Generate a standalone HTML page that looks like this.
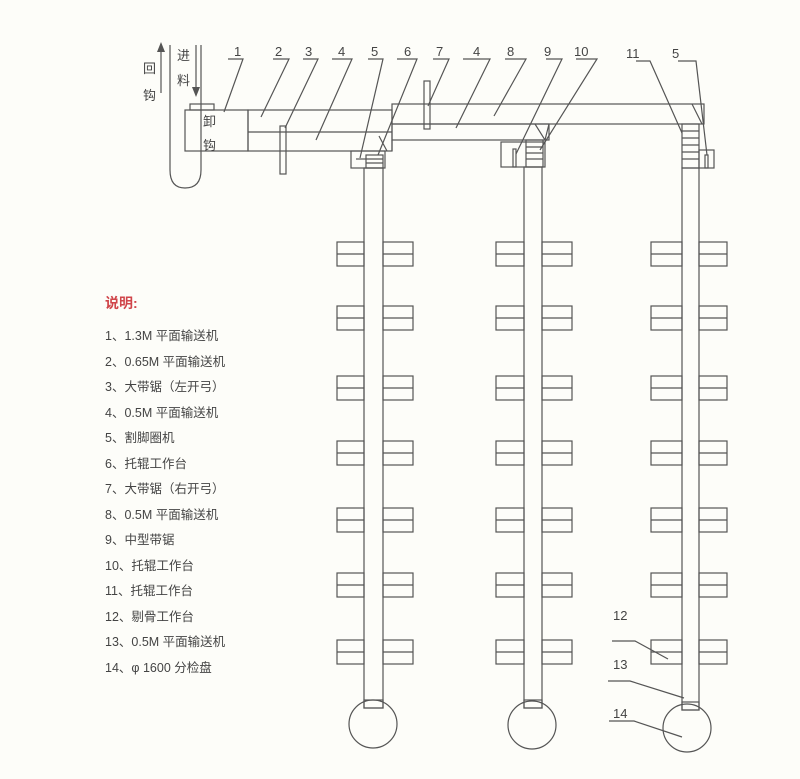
<!DOCTYPE html>
<html><head><meta charset="utf-8"><style>
html,body{margin:0;padding:0;background:#fdfdf9;}
svg{display:block;}
text{font-family:"Liberation Sans","Noto Sans CJK SC",sans-serif;fill:#444;}
.l{font-size:12.5px;}
</style></head><body>
<svg width="800" height="779" viewBox="0 0 800 779" xmlns="http://www.w3.org/2000/svg">
<defs>
<g id="r" fill="none" stroke="#555" stroke-width="1.2">
<rect x="337" y="0" width="27" height="24"/><line x1="337" y1="12" x2="364" y2="12"/>
<rect x="383" y="0" width="30" height="24"/><line x1="383" y1="12" x2="413" y2="12"/>
<rect x="496" y="0" width="28" height="24"/><line x1="496" y1="12" x2="524" y2="12"/>
<rect x="542" y="0" width="30" height="24"/><line x1="542" y1="12" x2="572" y2="12"/>
<rect x="651" y="0" width="31" height="24"/><line x1="651" y1="12" x2="682" y2="12"/>
<rect x="699" y="0" width="28" height="24"/><line x1="699" y1="12" x2="727" y2="12"/>
</g>
</defs>
<rect width="800" height="779" fill="#fdfdf9"/>
<g fill="none" stroke="#555" stroke-width="1.2">
<path d="M170,45 V170 Q170,188 185,188 Q201,188 201,170 V45"/>
<line x1="161" y1="50" x2="161" y2="93"/>
<line x1="196" y1="45" x2="196" y2="88"/>
<rect x="190" y="104" width="24" height="6"/>
<rect x="185" y="110" width="63" height="41"/>
<rect x="248" y="110" width="144" height="41"/>
<line x1="248" y1="132" x2="392" y2="132"/>
<rect x="280" y="126" width="6" height="48"/>
<rect x="392" y="104" width="312" height="20"/>
<rect x="392" y="124" width="157" height="16"/>
<line x1="392" y1="140" x2="392" y2="151"/>
<rect x="424" y="81" width="6" height="48"/>
<path d="M379,136 L387,151"/>
<path d="M535,124 L545,140 L549,124"/>
<path d="M692,104 L702,124"/>
<rect x="351" y="151" width="34" height="17"/>
<line x1="356" y1="159" x2="366" y2="159"/>
<rect x="366" y="155" width="17" height="13"/>
<line x1="366" y1="159" x2="383" y2="159"/><line x1="366" y1="163" x2="383" y2="163"/>
<rect x="501" y="142" width="44" height="25"/>
<rect x="513" y="149" width="3" height="18"/>
<rect x="526" y="140" width="17" height="27"/>
<line x1="526" y1="147" x2="543" y2="147"/><line x1="526" y1="153" x2="543" y2="153"/><line x1="526" y1="159" x2="543" y2="159"/>
<rect x="682" y="124" width="17" height="44"/>
<line x1="682" y1="131" x2="699" y2="131"/><line x1="682" y1="138" x2="699" y2="138"/><line x1="682" y1="145" x2="699" y2="145"/><line x1="682" y1="152" x2="699" y2="152"/><line x1="682" y1="159" x2="699" y2="159"/>
<rect x="699" y="150" width="15" height="18"/>
<rect x="705" y="155" width="3" height="13"/>
<rect x="364" y="168" width="19" height="540"/>
<rect x="524" y="167" width="18" height="541"/>
<rect x="682" y="168" width="17" height="542"/>
<rect x="364" y="700" width="19" height="8"/>
<rect x="524" y="700" width="18" height="8"/>
<rect x="682" y="702" width="17" height="8"/>
<circle cx="373" cy="724" r="24"/>
<circle cx="532" cy="725" r="24"/>
<circle cx="687" cy="728" r="24"/>
<path d="M228,59 H243 L224,112"/>
<path d="M273,59 H289 L261,117"/>
<path d="M303,59 H318 L285,128"/>
<path d="M332,59 H352 L316,140"/>
<path d="M368,59 H383 L360,158"/>
<path d="M397,59 H417 L378,155"/>
<path d="M433,59 H449 L428,106"/>
<path d="M463,59 H490 L456,128"/>
<path d="M505,59 H526 L494,116"/>
<path d="M546,59 H562 L516,154"/>
<path d="M576,59 H597 L540,150"/>
<path d="M636,61 H650 L682,133"/>
<path d="M678,61 H696 L707,155"/>
<path d="M612,641 H635 L668,659"/>
<path d="M608,681 H630 L684,698"/>
<path d="M609,721 H634 L682,737"/>
</g>
<g fill="#555">
<polygon points="157,52 165,52 161,42"/>
<polygon points="192,87 200,87 196,97"/>
</g>
<use href="#r" y="242"/>
<use href="#r" y="306"/>
<use href="#r" y="376"/>
<use href="#r" y="441"/>
<use href="#r" y="508"/>
<use href="#r" y="573"/>
<use href="#r" y="640"/>
<g font-size="13">
<text x="143" y="73">回</text><text x="143" y="100">钩</text>
<text x="177" y="60">进</text><text x="177" y="85">料</text>
<text x="203" y="126">卸</text><text x="203" y="150">钩</text>
<text x="234" y="56">1</text><text x="275" y="56">2</text><text x="305" y="56">3</text>
<text x="338" y="56">4</text><text x="371" y="56">5</text><text x="404" y="56">6</text>
<text x="436" y="56">7</text><text x="473" y="56">4</text><text x="507" y="56">8</text>
<text x="544" y="56">9</text><text x="574" y="56">10</text>
<text x="626" y="58">11</text><text x="672" y="58">5</text>
<text x="613" y="620">12</text><text x="613" y="669">13</text><text x="613" y="718">14</text>
</g>
<text x="105" y="308" font-size="14" font-weight="bold" style="fill:#d0454a">说明:</text>
<g class="l">
<text x="105" y="340">1、1.3M 平面输送机</text>
<text x="105" y="366">2、0.65M 平面输送机</text>
<text x="105" y="391">3、大带锯（左开弓）</text>
<text x="105" y="417">4、0.5M 平面输送机</text>
<text x="105" y="442">5、割脚圈机</text>
<text x="105" y="468">6、托辊工作台</text>
<text x="105" y="493">7、大带锯（右开弓）</text>
<text x="105" y="519">8、0.5M 平面输送机</text>
<text x="105" y="544">9、中型带锯</text>
<text x="105" y="570">10、托辊工作台</text>
<text x="105" y="595">11、托辊工作台</text>
<text x="105" y="621">12、剔骨工作台</text>
<text x="105" y="646">13、0.5M 平面输送机</text>
<text x="105" y="672">14、φ 1600 分检盘</text>
</g>
</svg>
</body></html>
